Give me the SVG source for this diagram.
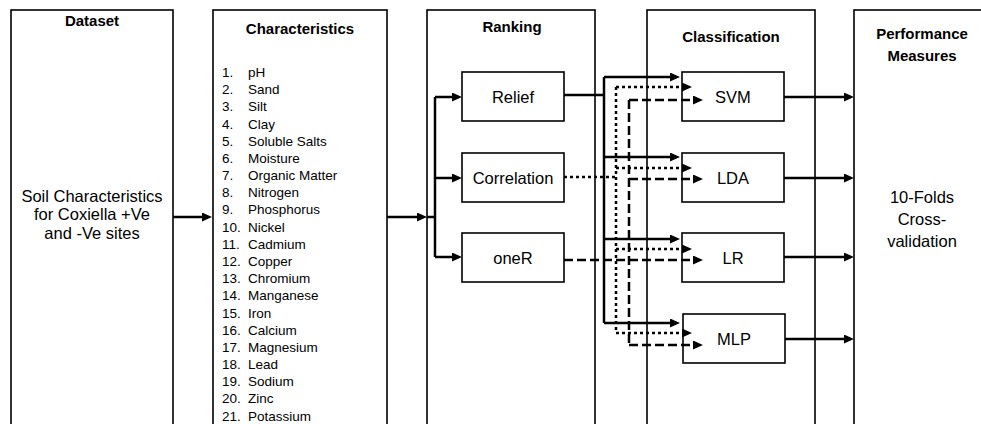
<svg xmlns="http://www.w3.org/2000/svg" width="981" height="424" viewBox="0 0 981 424">
<style>
.box{fill:none;stroke:#000;stroke-width:1.6}
.hd{font-family:"Liberation Sans",Arial,sans-serif;font-weight:bold;font-size:15px;text-anchor:middle;fill:#000}
.tx{font-family:"Liberation Sans",Arial,sans-serif;font-size:16.5px;text-anchor:middle;fill:#000}
.li{font-family:"Liberation Sans",Arial,sans-serif;font-size:13.5px;fill:#000}
.c{fill:none;stroke:#000;stroke-width:2.5}
.dot{stroke-dasharray:3 3}
.dash{stroke-dasharray:9 4}
</style>
<defs>
<marker id="ah" markerUnits="userSpaceOnUse" markerWidth="10" markerHeight="9" refX="0" refY="4.5" orient="auto">
<path d="M0,0 L10,4.5 L0,9 z" fill="#000"/>
</marker>
</defs>
<rect width="981" height="424" fill="#fff"/>
<g id="dataset">
<rect class="box" x="11" y="10" width="162" height="430"/>
<text class="hd" x="92" y="26">Dataset</text>
<text class="tx" x="92" y="202">Soil Characteristics</text>
<text class="tx" x="92" y="220">for Coxiella +Ve</text>
<text class="tx" x="92" y="239">and -Ve sites</text>
</g>
<g id="characteristics">
<rect class="box" x="213" y="10" width="174" height="430"/>
<text class="hd" x="300" y="34">Characteristics</text>
<g class="li">
<text x="222" y="77">1.</text><text x="248" y="77">pH</text>
<text x="222" y="94">2.</text><text x="248" y="94">Sand</text>
<text x="222" y="111">3.</text><text x="248" y="111">Silt</text>
<text x="222" y="129">4.</text><text x="248" y="129">Clay</text>
<text x="222" y="146">5.</text><text x="248" y="146">Soluble Salts</text>
<text x="222" y="163">6.</text><text x="248" y="163">Moisture</text>
<text x="222" y="180">7.</text><text x="248" y="180">Organic Matter</text>
<text x="222" y="197">8.</text><text x="248" y="197">Nitrogen</text>
<text x="222" y="214">9.</text><text x="248" y="214">Phosphorus</text>
<text x="222" y="232">10.</text><text x="248" y="232">Nickel</text>
<text x="222" y="249">11.</text><text x="248" y="249">Cadmium</text>
<text x="222" y="266">12.</text><text x="248" y="266">Copper</text>
<text x="222" y="283">13.</text><text x="248" y="283">Chromium</text>
<text x="222" y="300">14.</text><text x="248" y="300">Manganese</text>
<text x="222" y="318">15.</text><text x="248" y="318">Iron</text>
<text x="222" y="335">16.</text><text x="248" y="335">Calcium</text>
<text x="222" y="352">17.</text><text x="248" y="352">Magnesium</text>
<text x="222" y="369">18.</text><text x="248" y="369">Lead</text>
<text x="222" y="386">19.</text><text x="248" y="386">Sodium</text>
<text x="222" y="403">20.</text><text x="248" y="403">Zinc</text>
<text x="222" y="421">21.</text><text x="248" y="421">Potassium</text>
</g>
</g>
<g id="ranking">
<rect class="box" x="427" y="10" width="168" height="430"/>
<text class="hd" x="512" y="32">Ranking</text>
</g>
<g id="relief">
<rect class="box" x="462" y="72" width="102" height="49"/>
<text class="tx" x="513" y="103">Relief</text>
</g>
<g id="correlation">
<rect class="box" x="462" y="153" width="102" height="49"/>
<text class="tx" x="513" y="184">Correlation</text>
</g>
<g id="oner">
<rect class="box" x="462" y="233" width="102" height="49"/>
<text class="tx" x="513" y="264">oneR</text>
</g>
<g id="classification">
<rect class="box" x="647" y="10" width="168" height="430"/>
<text class="hd" x="731" y="42">Classification</text>
</g>
<g id="svm">
<rect class="box" x="682" y="72" width="102" height="49"/>
<text class="tx" x="733" y="103">SVM</text>
</g>
<g id="lda">
<rect class="box" x="682" y="153" width="102" height="49"/>
<text class="tx" x="733" y="184">LDA</text>
</g>
<g id="lr">
<rect class="box" x="682" y="233" width="102" height="49"/>
<text class="tx" x="733" y="264">LR</text>
</g>
<g id="mlp">
<rect class="box" x="683" y="314" width="102" height="49"/>
<text class="tx" x="734" y="345">MLP</text>
</g>
<g id="performance">
<rect class="box" x="854" y="10" width="140" height="430"/>
<text class="hd" x="922" y="39">Performance</text>
<text class="hd" x="922" y="61">Measures</text>
<text class="tx" x="922" y="203">10-Folds</text>
<text class="tx" x="922" y="225">Cross-</text>
<text class="tx" x="922" y="247">validation</text>
</g>
<g id="connectors">
<path class="c" d="M173,217 H202" marker-end="url(#ah)"/>
<path class="c" d="M387,217 H417" marker-end="url(#ah)"/>
<path class="c" d="M427,217 H435"/>
<path class="c" d="M435,97 V257"/>
<path class="c" d="M435,97 H452" marker-end="url(#ah)"/>
<path class="c" d="M435,178 H452" marker-end="url(#ah)"/>
<path class="c" d="M435,257 H452" marker-end="url(#ah)"/>
<!-- Relief solid bus -->
<path class="c" d="M564,95 H604"/>
<path class="c" d="M604,77 V323"/>
<path class="c" d="M604,77 H670" marker-end="url(#ah)"/>
<path class="c" d="M604,157 H670" marker-end="url(#ah)"/>
<path class="c" d="M604,239 H670" marker-end="url(#ah)"/>
<path class="c" d="M604,323 H670" marker-end="url(#ah)"/>
<!-- Correlation dotted bus -->
<path class="c dot" d="M564,177 H616"/>
<path class="c dot" d="M616,87 V333"/>
<path class="c dot" d="M616,87 H682" marker-end="url(#ah)"/>
<path class="c dot" d="M616,168 H682" marker-end="url(#ah)"/>
<path class="c dot" d="M616,249 H682" marker-end="url(#ah)"/>
<path class="c dot" d="M616,333 H682" marker-end="url(#ah)"/>
<!-- oneR dashed bus -->
<path class="c dash" d="M564,260 H629"/>
<path class="c dash" d="M629,100 V345"/>
<path class="c dash" d="M629,100 H693" marker-end="url(#ah)"/>
<path class="c dash" d="M629,179 H693" marker-end="url(#ah)"/>
<path class="c dash" d="M629,260 H693" marker-end="url(#ah)"/>
<path class="c dash" d="M629,345 H693" marker-end="url(#ah)"/>
<!-- outputs -->
<path class="c" d="M784,97 H844" marker-end="url(#ah)"/>
<path class="c" d="M784,178 H844" marker-end="url(#ah)"/>
<path class="c" d="M784,257 H844" marker-end="url(#ah)"/>
<path class="c" d="M785,339 H844" marker-end="url(#ah)"/>
</g>
</svg>
